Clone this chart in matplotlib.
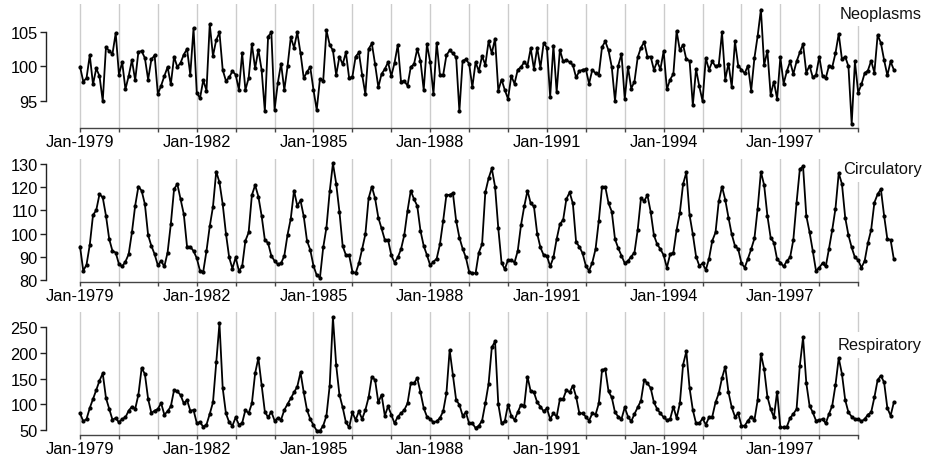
import matplotlib
matplotlib.use("Agg")
import matplotlib.pyplot as plt
import numpy as np

plt.rcParams['font.family'] = ['Liberation Sans', 'DejaVu Sans']

years = list(range(1979, 2000))
labelled_years = [1979, 1982, 1985, 1988, 1991, 1994, 1997]
tick_labels = ["Jan-1979", "Jan-1982", "Jan-1985", "Jan-1988", "Jan-1991", "Jan-1994", "Jan-1997"]
series_names = ["Neoplasms", "Circulatory", "Respiratory"]

neoplasms = [
    99.95, 97.8, 98.3, 101.6, 97.4, 99.7, 98.6, 95.0, 102.8, 102.2, 101.8, 104.8,
    98.8, 100.6, 96.7, 98.6, 100.9, 98.0, 102.1, 102.2, 101.2, 98.1, 101.0, 101.6,
    96.0, 97.2, 98.6, 99.9, 97.4, 101.4, 99.9, 100.5, 101.7, 102.5, 98.8, 105.5,
    96.2, 95.4, 98.0, 96.5, 106.1, 101.5, 103.8, 104.9, 99.5, 97.9, 98.4, 99.3,
    98.8, 96.6, 101.9, 96.6, 98.3, 103.2, 99.7, 102.4, 99.5, 93.5, 104.3, 104.9,
    93.75, 97.6, 100.4, 96.6, 100.0, 104.2, 102.7, 104.9, 101.9, 98.3, 99.2, 99.9,
    96.6, 93.7, 98.2, 97.9, 105.2, 103.1, 102.3, 98.75, 101.4, 100.3, 102.0, 98.3,
    98.5, 101.4, 102.0, 98.8, 96.0, 102.5, 103.3, 100.3, 97.0, 98.9, 99.6, 100.6,
    98.6, 100.5, 103.1, 97.8, 97.9, 97.2, 99.9, 100.3, 102.5, 100.8, 96.6, 103.2,
    100.6, 96.0, 103.4, 98.8, 98.75, 101.6, 102.3, 101.9, 101.3, 93.5, 100.8, 101.0,
    100.4, 97.0, 100.6, 99.3, 101.5, 100.2, 103.6, 101.9, 104.0, 96.5, 98.1, 96.6,
    95.3, 98.6, 97.5, 99.5, 99.9, 100.6, 100.1, 102.6, 99.6, 102.7, 99.8, 103.4,
    102.7, 95.6, 103.0, 96.3, 102.4, 100.7, 100.9, 100.6, 100.2, 98.4, 99.3, 99.5,
    99.6, 97.5, 99.5, 99.0, 98.8, 102.8, 103.6, 102.3, 99.9, 95.0, 100.1, 101.8,
    95.3, 99.9, 96.8, 97.8, 101.3, 102.7, 103.5, 101.4, 101.4, 99.5, 100.7, 99.6,
    102.2, 96.7, 98.1, 98.9, 105.1, 102.3, 103.1, 101.0, 100.8, 94.4, 99.6, 97.1,
    95.0, 101.2, 99.5, 100.7, 100.0, 100.2, 104.9, 98.1, 100.4, 97.0, 103.6, 100.1,
    99.5, 99.0, 100.1, 96.5, 101.2, 104.4, 108.2, 100.2, 102.2, 95.9, 97.8, 95.3,
    101.3, 97.5, 99.3, 100.7, 98.9, 100.7, 102.0, 103.2, 99.1, 100.1, 98.4, 98.75,
    101.4, 98.6, 98.3, 100.1, 99.9, 101.9, 104.7, 101.0, 101.4, 100.0, 91.7, 100.7,
    96.2, 97.4, 99.0, 99.4, 100.8, 99.1, 104.5, 103.4, 100.9, 98.7, 100.7, 99.5,
]

circulatory = [
    94.4, 83.9, 86.6, 95.1, 108.0, 110.1, 117.0, 115.6, 107.7, 97.6, 92.5, 91.8,
    86.8, 85.8, 87.9, 91.1, 100.5, 112.0, 120.3, 118.5, 112.7, 99.3, 94.7, 91.1,
    86.3, 88.2, 85.8, 91.8, 104.1, 119.2, 121.4, 114.9, 108.4, 94.4, 94.3, 92.5,
    89.4, 83.9, 83.6, 92.5, 103.1, 111.6, 126.8, 122.1, 112.7, 100.0, 89.7, 84.9,
    89.7, 83.9, 85.8, 96.9, 100.5, 116.6, 120.9, 116.0, 107.7, 97.3, 95.9, 90.4,
    88.2, 86.8, 87.2, 90.4, 99.5, 106.5, 118.6, 112.0, 114.3, 107.4, 96.9, 93.0,
    86.1, 82.0, 81.0, 94.0, 102.6, 118.2, 130.3, 121.6, 109.5, 94.7, 90.7, 90.7,
    83.6, 82.9, 87.2, 93.3, 99.7, 115.2, 120.3, 115.2, 106.9, 102.2, 97.3, 97.3,
    90.7, 87.5, 89.7, 93.3, 99.3, 109.8, 118.5, 114.9, 112.0, 101.2, 94.7, 90.7,
    86.3, 87.8, 89.2, 95.4, 105.5, 116.7, 116.7, 117.5, 105.5, 98.3, 93.5, 89.7,
    83.5, 82.9, 82.9, 91.8, 95.4, 117.8, 123.8, 128.1, 120.3, 102.3, 87.5, 84.6,
    88.6, 88.6, 87.5, 92.5, 103.6, 111.7, 118.5, 113.1, 111.7, 100.0, 94.0, 90.7,
    90.4, 85.8, 89.7, 97.6, 104.1, 105.9, 114.9, 117.8, 113.0, 96.4, 94.3, 91.5,
    86.1, 83.9, 87.5, 93.3, 105.5, 120.2, 120.2, 113.1, 109.5, 97.6, 93.7, 90.4,
    87.2, 88.2, 90.1, 91.8, 101.6, 115.2, 114.1, 116.6, 109.4, 99.3, 95.4, 93.3,
    90.7, 85.3, 91.1, 91.8, 101.6, 109.1, 121.4, 126.4, 108.0, 99.7, 90.1, 86.1,
    87.1, 84.3, 89.2, 96.9, 100.5, 113.9, 120.3, 114.6, 106.9, 99.7, 94.7, 93.3,
    87.2, 85.3, 89.2, 93.3, 97.9, 110.8, 126.7, 120.9, 107.7, 98.3, 96.1, 88.9,
    87.5, 85.8, 88.2, 89.7, 97.3, 113.4, 127.8, 129.0, 107.7, 100.7, 92.5, 83.9,
    85.3, 87.2, 85.8, 93.5, 101.6, 110.8, 126.1, 121.4, 106.9, 99.3, 94.0, 89.7,
    88.6, 85.3, 88.2, 95.9, 101.6, 113.4, 117.0, 119.2, 107.7, 97.6, 97.3, 88.9,
]

respiratory = [
    82.5, 66.9, 71.4, 92.9, 110.4, 127.9, 146.1, 160.4, 112.3, 90.9, 70.1, 73.4,
    64.9, 71.4, 74.7, 87.7, 95.5, 90.9, 118.8, 170.8, 159.1, 110.4, 83.1, 87.7,
    90.9, 102.6, 79.9, 86.4, 96.1, 127.9, 125.3, 118.2, 101.9, 108.4, 87.7, 89.0,
    63.6, 64.9, 56.5, 60.4, 81.2, 103.9, 181.8, 257.8, 131.8, 82.5, 64.9, 58.4,
    74.7, 60.4, 63.6, 89.0, 82.5, 101.9, 160.4, 190.3, 138.3, 85.7, 74.7, 85.7,
    68.2, 73.4, 70.1, 89.0, 100.6, 111.7, 123.4, 134.4, 162.3, 123.4, 89.0, 71.4,
    59.4, 48.7, 48.7, 58.4, 77.9, 136.4, 269.5, 176.6, 118.8, 94.2, 64.9, 55.2,
    84.4, 69.5, 86.4, 71.4, 89.0, 113.6, 153.9, 147.4, 103.9, 118.8, 77.9, 96.1,
    79.9, 63.0, 76.0, 82.5, 89.0, 101.9, 140.9, 140.9, 151.3, 123.4, 92.9, 76.0,
    71.4, 64.9, 66.9, 73.4, 86.4, 121.4, 205.8, 157.1, 108.4, 99.4, 77.9, 84.4,
    63.0, 63.0, 53.9, 58.4, 68.2, 101.9, 139.6, 211.0, 222.7, 100.6, 63.0, 66.9,
    99.4, 77.9, 69.5, 84.4, 99.4, 97.4, 153.9, 125.3, 123.4, 103.9, 95.5, 86.4,
    92.2, 71.4, 82.5, 76.0, 110.4, 110.4, 127.9, 123.4, 136.4, 114.9, 82.5, 82.5,
    76.0, 68.2, 82.5, 79.9, 101.9, 166.9, 168.8, 125.3, 113.6, 84.4, 76.0, 71.4,
    94.2, 76.0, 66.9, 81.2, 94.2, 107.1, 147.4, 140.9, 131.8, 103.9, 90.9, 82.5,
    74.7, 69.5, 71.4, 95.5, 73.4, 101.9, 177.3, 203.2, 131.8, 89.0, 63.0, 63.0,
    72.7, 60.4, 74.7, 76.0, 103.9, 121.4, 151.3, 173.4, 123.4, 94.2, 76.0, 82.5,
    58.4, 58.4, 68.2, 76.0, 69.5, 108.4, 198.1, 168.8, 114.9, 90.9, 74.7, 124.7,
    55.2, 55.2, 56.5, 73.4, 81.2, 90.9, 175.3, 230.5, 141.6, 97.4, 84.4, 68.2,
    69.5, 71.4, 63.0, 81.2, 97.4, 137.7, 190.3, 159.1, 108.4, 84.4, 76.0, 71.4,
    71.4, 66.9, 71.4, 79.9, 84.4, 113.6, 147.4, 155.8, 142.9, 92.9, 77.9, 103.9,
]

y_ticks = [[95, 100, 105], [80, 90, 100, 110, 120, 130], [50, 100, 150, 200, 250]]
y_limits = [(91.1, 109.0), (79.1, 132.2), (40.3, 279.9)]
label_y = [0.927, 0.919, 0.732]

W, H = 928, 456
fig = plt.figure(figsize=(W / 100, H / 100), dpi=100)

# panel pixel boxes (top, bottom)
boxes = [(5, 129), (160, 283), (313, 436)]
left_px, right_px = 46, 900

series = [neoplasms, circulatory, respiratory]
months = np.arange(len(neoplasms))
year_pos = [(y - 1979) * 12 for y in years]
label_pos = [(y - 1979) * 12 for y in labelled_years]

FS = 11.8
for i, (vals, name) in enumerate(zip(series, series_names)):
    top, bot = boxes[i]
    ax = fig.add_axes([left_px / W, (H - bot) / H, (right_px - left_px) / W, (bot - top) / H])
    ax.set_xlim(-10.5, 252.9)
    ax.set_ylim(*y_limits[i])
    for xp in year_pos:
        ax.axvline(xp, color='#cccccc', lw=1.0, zorder=0)
    ax.plot(months, vals, color='black', lw=1.3, marker='o', markersize=2.0, zorder=3)
    for s in ['top', 'right']:
        ax.spines[s].set_visible(False)
    ax.spines['left'].set_bounds(y_ticks[i][0], y_ticks[i][-1])
    ax.spines['bottom'].set_bounds(0, 240)
    ax.spines['left'].set_color('#222222')
    ax.spines['bottom'].set_color('#444444')
    ax.spines['left'].set_linewidth(1.0)
    ax.spines['bottom'].set_linewidth(1.0)
    ax.set_yticks(y_ticks[i])
    ax.set_yticklabels([str(t) for t in y_ticks[i]])
    ax.set_xticks(year_pos)
    lbls = []
    for xp in year_pos:
        lbls.append(tick_labels[label_pos.index(xp)] if xp in label_pos else "")
    ax.set_xticklabels(lbls)
    ax.tick_params(axis='y', length=4, width=1.0, color='#222222', pad=2, labelsize=FS)
    ax.tick_params(axis='x', length=3, width=1.0, color='#444444', pad=1.5, labelsize=FS)
    ax.patch.set_alpha(0)
    ax.text(1.0257, label_y[i], name, transform=ax.transAxes, ha='right', va='center',
            fontsize=FS, color='#111111', zorder=2, clip_on=False,
            bbox=dict(facecolor='white', edgecolor='none', pad=4))

fig.savefig("out.png", dpi=100)
